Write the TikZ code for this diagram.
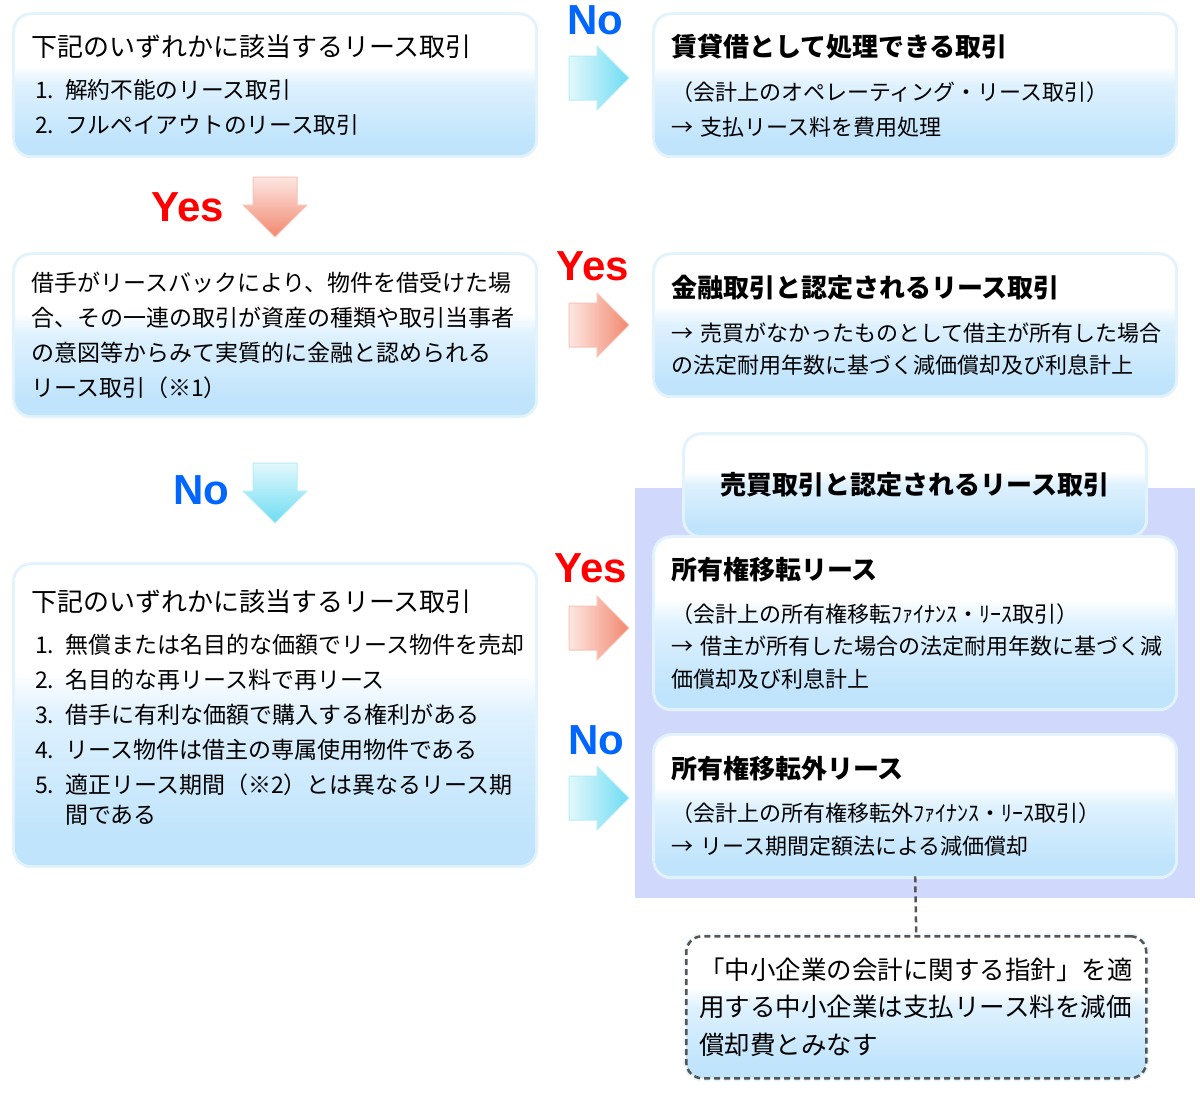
\documentclass[tikz,border=0pt]{standalone}
\usepackage{fontspec}
\setmainfont{Noto Sans CJK JP}
\newfontfamily\lab{Liberation Sans}
\usetikzlibrary{shapes.arrows}

\definecolor{boxblue}{RGB}{192,228,252}
\definecolor{boxpale}{RGB}{222,241,254}
\definecolor{boxglow}{RGB}{226,243,254}
\definecolor{lavender}{RGB}{208,216,252}
\definecolor{noblue}{RGB}{0,102,255}
\definecolor{yesred}{RGB}{255,0,0}
\definecolor{noarrow}{RGB}{110,220,242}
\definecolor{yesarrow}{RGB}{242,135,110}
\definecolor{notegray}{RGB}{85,85,85}

\pgfdeclareverticalshading{boxshade}{100bp}{color(0bp)=(boxblue); color(30bp)=(boxblue); color(50bp)=(boxpale); color(57bp)=(white); color(100bp)=(white)}

\tikzset{
 box/.style={shade, shading=boxshade, rounded corners=16pt,
   preaction={draw=boxglow, line width=6pt},
   anchor=north west, align=left, inner xsep=16pt, inner ysep=0pt, text width=#1},
 rarr/.style={single arrow, single arrow head extend=10pt, inner xsep=0pt, inner ysep=21.5pt,
   minimum height=60pt, draw=#1!50!white, line width=1pt,
   left color=#1!20!white, middle color=#1!75!white, right color=#1},
 darr/.style={single arrow, shape border rotate=270, single arrow head extend=10pt,
   inner xsep=21.5pt, inner ysep=0pt, minimum height=60pt, draw=#1!50!white,
   line width=1pt, top color=#1!20!white, middle color=#1!75!white, bottom color=#1},
 nolab/.style={font=\lab\bfseries\fontsize{42}{42}\selectfont, text=noblue, inner sep=0pt},
 yeslab/.style={font=\lab\bfseries\fontsize{42}{42}\selectfont, text=yesred, inner sep=0pt}
}

\begin{document}
\begin{tikzpicture}[x=1pt,y=-1pt]
\useasboundingbox (0,0) rectangle (1200,1100);

% background of the sale-type group
\fill[lavender] (635,488) rectangle (1195,898);

% left column
\node[box=488pt, minimum height=140pt, font=\fontsize{22.7}{35}\selectfont] (jokenA) at (15,15)
 {{\fontsize{26}{35}\selectfont 下記のいずれかに該当するリース取引}\\[7pt]
 \hspace*{4pt}\makebox[30pt][l]{1.}解約不能のリース取引\\
 \hspace*{4pt}\makebox[30pt][l]{2.}フルペイアウトのリース取引};

\node[box=488pt, minimum height=160pt, font=\fontsize{23}{35}\selectfont] (leaseback) at (15,255)
 {借手がリースバックにより、物件を借受けた場\\
 合、その一連の取引が資産の種類や取引当事者\\
 の意図等からみて実質的に金融と認められる\\
 リース取引（※1）};

\node[box=488pt, minimum height=300pt, font=\fontsize{23}{35}\selectfont] (jokenB) at (15,565)
 {{\fontsize{26}{35}\selectfont 下記のいずれかに該当するリース取引}\\[7pt]
 \hspace*{4pt}\makebox[30pt][l]{1.}無償または名目的な価額でリース物件を売却\\
 \hspace*{4pt}\makebox[30pt][l]{2.}名目的な再リース料で再リース\\
 \hspace*{4pt}\makebox[30pt][l]{3.}借手に有利な価額で購入する権利がある\\
 \hspace*{4pt}\makebox[30pt][l]{4.}リース物件は借主の専属使用物件である\\
 \hspace*{4pt}\makebox[30pt][l]{5.}適正リース期間（※2）とは異なるリース期\\[-5pt]
 \hspace*{34pt}間である\\[-18pt]\mbox{}};

% right column
\node[box=488pt, minimum height=140pt, font=\fontsize{22}{35}\selectfont] (chintai) at (655,15)
 {{\bfseries\fontsize{26}{35}\selectfont 賃貸借として処理できる取引}\\[9pt]
 （会計上のオペレーティング・リース取引）\\
 →~支払リース料を費用処理};

\node[box=488pt, minimum height=140pt, font=\fontsize{22}{32}\selectfont] (kinyu) at (655,255)
 {{\bfseries\fontsize{26}{32}\selectfont 金融取引と認定されるリース取引}\\[12pt]
 →~売買がなかったものとして借主が所有した場合\\
 の法定耐用年数に基づく減価償却及び利息計上};

\node[box=428pt, minimum height=100pt, align=center, font=\bfseries\fontsize{26}{32}\selectfont] (baibai) at (685,435)
 {売買取引と認定されるリース取引};

\node[box=488pt, minimum height=170pt, font=\fontsize{22}{32.5}\selectfont] (iten) at (655,538)
 {{\bfseries\fontsize{26}{32}\selectfont 所有権移転リース}\\[10.5pt]
 （会計上の所有権移転ﾌｧｲﾅﾝｽ・ﾘｰｽ取引）\\
 →~借主が所有した場合の法定耐用年数に基づく減\\
 価償却及び利息計上};

\node[box=488pt, minimum height=140pt, font=\fontsize{22}{33}\selectfont] (itengai) at (655,736)
 {{\bfseries\fontsize{26}{33}\selectfont 所有権移転外リース}\\[10pt]
 （会計上の所有権移転外ﾌｧｲﾅﾝｽ・ﾘｰｽ取引）\\
 →~リース期間定額法による減価償却};

\node[box=434pt, minimum height=142pt, inner xsep=13pt, draw=notegray, line width=2.5pt,
 dash pattern=on 6pt off 4pt, font=\fontsize{25.5}{37.5}\selectfont] (shishin) at (685,935)
 {「中小企業の会計に関する指針」を適\\
 用する中小企業は支払リース料を減価\\
 償却費とみなす};

\draw[notegray, line width=2.5pt, dash pattern=on 6pt off 4pt] (itengai.south) -- (shishin.north);

% block arrows
\node[rarr=noarrow] (arrNoA) at (588,78) {};
\node[nolab] (labNoA) at (595,20) {No};

\node[darr=yesarrow] (arrYesA) at (275,196) {};
\node[yeslab] (labYesA) at (188,207) {Yes};

\node[rarr=yesarrow] (arrYesB) at (588,325) {};
\node[yeslab] (labYesB) at (593,266) {Yes};

\node[darr=noarrow] (arrNoB) at (275,482) {};
\node[nolab] (labNoB) at (201,490) {No};

\node[rarr=yesarrow] (arrYesC) at (588,628) {};
\node[yeslab] (labYesC) at (591,568) {Yes};

\node[rarr=noarrow] (arrNoC) at (588,798) {};
\node[nolab] (labNoC) at (596,740) {No};

\end{tikzpicture}
\end{document}
